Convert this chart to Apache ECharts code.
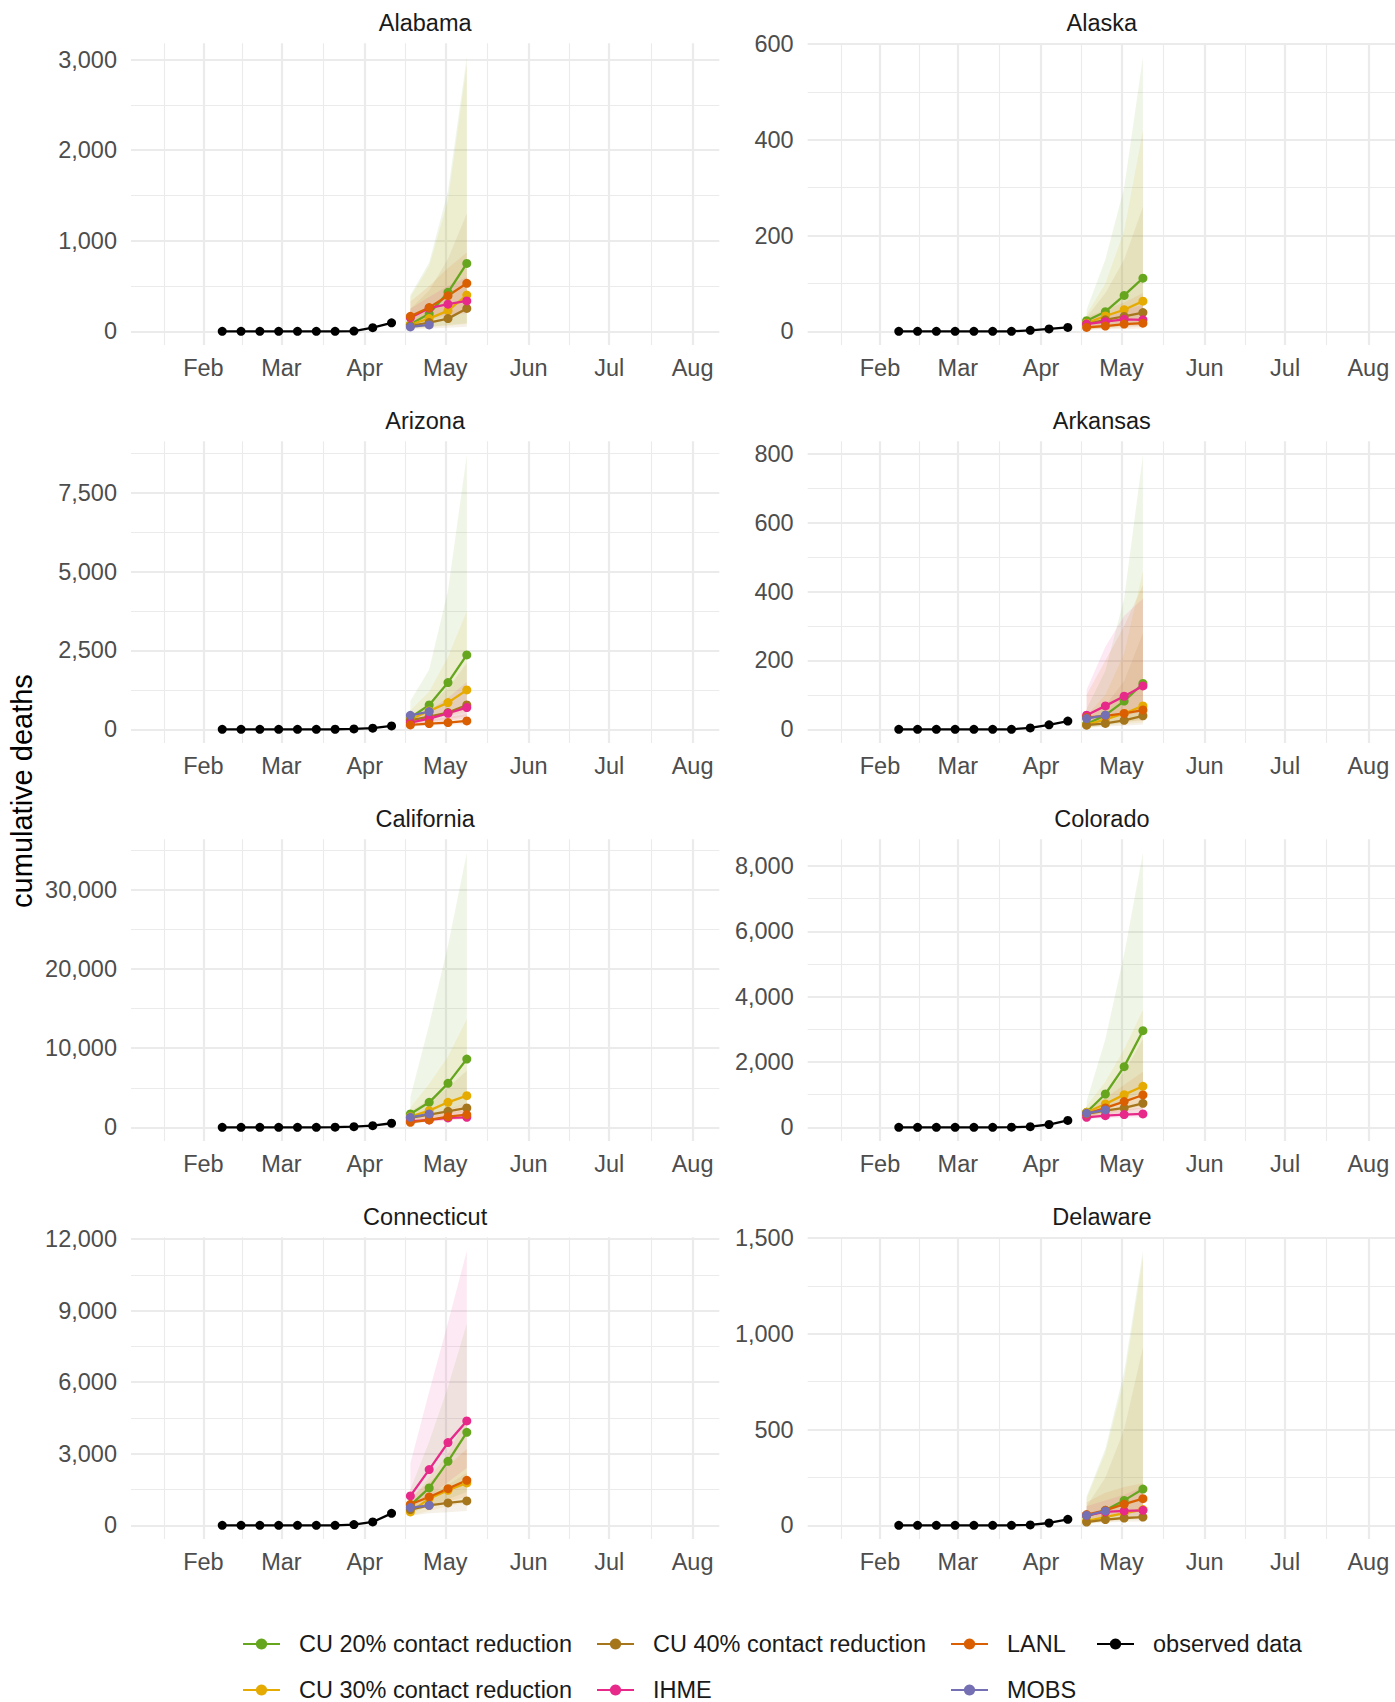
<!DOCTYPE html>
<html>
<head>
<meta charset="utf-8">
<script src="https://cdn.jsdelivr.net/npm/echarts@6/dist/echarts.min.js"></script>
<style>
html,body{margin:0;padding:0;background:#ffffff;}
#chart{width:1395px;height:1702px;}
</style>
</head>
<body>
<div id="chart"></div>
<script>
// ---------------- DATA ----------------
const states = ['Alabama','Alaska','Arizona','Arkansas','California','Colorado','Connecticut','Delaware'];
const models = ['CU 20% contact reduction','CU 30% contact reduction','CU 40% contact reduction','IHME','LANL','MOBS'];
const modelColors = ['#66A61E','#E6AB02','#A6761D','#E7298A','#D95F02','#7570B3'];
const obsDates = ['2020-02-08','2020-02-15','2020-02-22','2020-02-29','2020-03-07','2020-03-14','2020-03-21','2020-03-28','2020-04-04','2020-04-11'];
const fcDates = ['2020-04-18','2020-04-25','2020-05-02','2020-05-09'];
const xTickDates = ['2020-02-01','2020-03-01','2020-04-01','2020-05-01','2020-06-01','2020-07-01','2020-08-01'];
const xTickLabels = ['Feb','Mar','Apr','May','Jun','Jul','Aug'];
const xMinorDates = ['2020-01-17T12:00','2020-02-15T12:00','2020-03-16T12:00','2020-04-16T00:00','2020-05-16T12:00','2020-06-16T00:00','2020-07-16T12:00'];
const xDataRange = ['2020-01-15','2020-08-01'];

// y tick labels per state
const alabamaTicks = [0,1000,2000,3000];
const alaskaTicks = [0,200,400,600];
const arizonaTicks = [0,2500,5000,7500];
const arkansasTicks = [0,200,400,600,800];
const californiaTicks = [0,10000,20000,30000];
const coloradoTicks = [0,2000,4000,6000,8000];
const connecticutTicks = [0,3000,6000,9000,12000];
const delawareTicks = [0,500,1000,1500];

// observed weekly cumulative deaths
const alabamaObs = [0,0,0,0,0,0,0,2,40,93];
const alaskaObs = [0,0,0,0,0,0,0,2,5,8];
const arizonaObs = [0,0,0,0,0,0,1,12,35,108];
const arkansasObs = [0,0,0,0,0,0,0,4,13,24];
const californiaObs = [0,0,0,0,0,0,10,80,200,510];
const coloradoObs = [0,0,0,0,0,0,2,20,85,210];
const connecticutObs = [0,0,0,0,0,0,0,30,140,500];
const delawareObs = [0,0,0,0,0,0,0,2,12,31];

// forecasts: rows follow `models` order (CU20, CU30, CU40, IHME, LANL, MOBS)
const alabamaMean = [[77,195,430,750],[75,140,228,400],[60,96,140,252],[150,255,300,335],[165,262,393,530],[48,70,null,null]];
const alabamaLo   = [[30,50,70,90],[30,45,60,80],[20,30,40,50],[100,150,180,200],[80,120,170,220],null];
const alabamaHi   = [[400,760,1550,3030],[380,720,1450,2950],[250,450,800,1300],[250,380,500,600],[330,500,700,870],null];

const alaskaMean = [[22,41,75,111],[17,32,45,63],[15,24,31,39],[15,20,25,24],[8,11,15,17],null];
const alaskaLo   = [[5,8,12,15],[4,7,10,12],[3,6,8,10],[8,10,12,12],[3,4,5,6],null];
const alaskaHi   = [[45,150,300,573],[35,100,210,420],[30,80,150,260],[25,35,45,55],[30,45,60,80],null];

const arizonaMean = [[370,772,1481,2359],[317,582,846,1248],[286,402,529,772],[212,338,508,688],[138,180,212,264],[444,561,null,null]];
const arizonaLo   = [[200,350,550,800],[180,300,420,560],[160,250,330,420],[130,200,280,350],[90,120,140,160],null];
const arizonaHi   = [[900,1900,4400,8700],[600,1200,2300,3750],[450,800,1300,2100],[320,600,1000,1500],[220,300,380,480],null];

const arkansasMean = [[15,41,82,133],[13,29,46,68],[12,17,26,39],[41,68,96,126],[34,39,46,56],[31,41,null,null]];
const arkansasLo   = [[5,12,20,30],[5,10,15,20],[4,8,10,14],[20,30,40,50],[15,18,22,25],null];
const arkansasHi   = [[60,170,380,797],[40,100,220,460],[30,70,140,280],[115,240,330,380],[100,200,300,420],null];

const californiaMean = [[1685,3159,5559,8634],[1348,2106,3159,4001],[1179,1600,2022,2443],[758,927,1179,1263],[632,927,1348,1600],[1263,1685,null,null]];
const californiaLo   = [[900,1500,2200,3000],[800,1200,1600,2000],[700,1000,1300,1500],[600,750,900,1000],[450,650,900,1100],null];
const californiaHi   = [[3800,13000,23000,34700],[2500,5500,9000,13700],[2000,3500,5000,7200],[1000,1400,1800,2200],[1000,1600,2300,3000],null];

const coloradoMean = [[459,1020,1857,2959],[459,714,1000,1255],[408,510,592,735],[306,357,388,408],[408,592,786,990],[429,531,null,null]];
const coloradoLo   = [[300,500,800,1100],[280,420,550,650],[250,330,380,430],[250,280,300,300],[280,380,480,580],null];
const coloradoHi   = [[800,2700,5300,8400],[650,1400,2400,3600],[550,1000,1700,2700],[400,480,550,600],[550,900,1300,1700],null];

const connecticutMean = [[838,1565,2683,3899],[559,1118,1467,1775],[657,838,936,1020],[1230,2334,3466,4374],[880,1188,1537,1887],[741,838,null,null]];
const connecticutLo   = [[500,800,1100,1400],[400,600,800,950],[400,500,550,600],[700,1200,1800,2400],[600,800,1000,1200],null];
const connecticutHi   = [[1500,3500,5800,8450],[1000,2000,3000,4500],[900,1300,1700,2200],[2600,5600,8500,11500],[1200,1800,2500,3200],null];

const delawareMean = [[47,78,130,189],[23,43,64,82],[17,30,38,43],[52,70,75,78],[56,78,110,139],[52,75,null,null]];
const delawareLo   = [[20,30,40,50],[10,18,25,30],[8,14,18,20],[35,45,50,50],[35,45,60,70],null];
const delawareHi   = [[150,400,800,1432],[140,380,760,1400],[100,250,500,930],[100,130,160,200],[120,170,200,220],null];

// ---------------- BUILD ----------------
const panelObs = [alabamaObs,alaskaObs,arizonaObs,arkansasObs,californiaObs,coloradoObs,connecticutObs,delawareObs];
const panelMean = [alabamaMean,alaskaMean,arizonaMean,arkansasMean,californiaMean,coloradoMean,connecticutMean,delawareMean];
const panelLo = [alabamaLo,alaskaLo,arizonaLo,arkansasLo,californiaLo,coloradoLo,connecticutLo,delawareLo];
const panelHi = [alabamaHi,alaskaHi,arizonaHi,arkansasHi,californiaHi,coloradoHi,connecticutHi,delawareHi];
const panelTicks = [alabamaTicks,alaskaTicks,arizonaTicks,arkansasTicks,californiaTicks,coloradoTicks,connecticutTicks,delawareTicks];

const FONT = '"Liberation Sans", Arial, Helvetica, sans-serif';
const GRID_LEFT = [131, 807.7];
const GRID_TOP0 = 43.3;
const ROW_PITCH = 398;
const GRID_W = 588.3;
const GRID_H = 301.7;
const GRID_COLOR = '#EBEBEB';

const ts = s => new Date(s.length > 10 ? s : s + 'T00:00:00').getTime();
const xTickTs = xTickDates.map(ts);
const dStart = ts(xDataRange[0]), dEnd = ts(xDataRange[1]);
const xMin = dStart - 0.05 * (dEnd - dStart);
const xMax = dEnd + 0.05 * (dEnd - dStart);

const grids = [], xAxes = [], yAxes = [], series = [], graphics = [];

function ribbonRenderer(color) {
  return function (params, api) {
    if (params.dataIndex !== 0) return null;
    const n = params.dataInsideLength;
    const up = [], dn = [];
    for (let j = 0; j < n; j++) {
      const x = api.value(0, j);
      up.push(api.coord([x, api.value(2, j)]));
      dn.unshift(api.coord([x, api.value(1, j)]));
    }
    return {type: 'polygon', shape: {points: up.concat(dn)}, style: {fill: color, opacity: 0.1}, silent: true};
  };
}

states.forEach((st, i) => {
  const row = Math.floor(i / 2), col = i % 2;
  const top = GRID_TOP0 + row * ROW_PITCH;
  grids.push({left: GRID_LEFT[col], top: top, width: GRID_W, height: GRID_H});

  // y range like ggplot: data range expanded by 5%
  let yMaxData = 0;
  panelObs[i].forEach(v => { if (v != null) yMaxData = Math.max(yMaxData, v); });
  [panelMean[i], panelHi[i]].forEach(mat => mat.forEach(r => { if (r) r.forEach(v => { if (v != null) yMaxData = Math.max(yMaxData, v); }); }));
  const yMin = -0.05 * yMaxData, yMax = yMaxData * 1.05;
  const ticks = panelTicks[i];

  xAxes.push({
    type: 'value', gridIndex: i, min: xMin, max: xMax, scale: true,
    axisLine: {show: false}, axisTick: {show: false},
    splitLine: {show: false}, minorSplitLine: {show: false},
    axisLabel: {
      customValues: xTickTs,
      formatter: v => { let k = 0, best = Infinity; xTickTs.forEach((t, j) => { const d = Math.abs(t - v); if (d < best) { best = d; k = j; } }); return xTickLabels[k]; },
      fontFamily: FONT, fontSize: 23.5, color: '#4D4D4D', margin: 11, lineHeight: 24, hideOverlap: false
    }
  });
  yAxes.push({
    type: 'value', gridIndex: i, min: yMin, max: yMax,
    axisLine: {show: false}, axisTick: {show: false},
    splitLine: {show: false}, minorSplitLine: {show: false},
    axisLabel: {
      customValues: ticks,
      formatter: v => Math.round(v).toLocaleString('en-US'),
      fontFamily: FONT, fontSize: 23.5, color: '#4D4D4D', margin: 14, hideOverlap: false
    }
  });

  // gridlines (major + minor), drawn through the axes' scales
  const step = ticks[1] - ticks[0];
  const yMinor = [];
  for (let k = -1; k < ticks.length; k++) {
    const v = (k < 0 ? ticks[0] - step : ticks[k]) + step / 2;
    if (v > yMin && v < yMax) yMinor.push(v);
  }
  const gl = [];
  xMinorDates.map(ts).forEach(t => { if (t > xMin && t < xMax) gl.push({xAxis: t, lineStyle: {color: GRID_COLOR, width: 1.1, type: 'solid'}}); });
  yMinor.forEach(v => gl.push({yAxis: v, lineStyle: {color: GRID_COLOR, width: 1.1, type: 'solid'}}));
  xTickTs.forEach(t => gl.push({xAxis: t, lineStyle: {color: GRID_COLOR, width: 2.2, type: 'solid'}}));
  ticks.forEach(v => { if (v >= yMin && v <= yMax) gl.push({yAxis: v, lineStyle: {color: GRID_COLOR, width: 2.2, type: 'solid'}}); });
  series.push({
    type: 'line', name: 'grid' + i, xAxisIndex: i, yAxisIndex: i, data: [], silent: true, z: 0,
    markLine: {silent: true, z: 0, animation: false, symbol: ['none', 'none'], label: {show: false},
      emphasis: {disabled: true}, data: gl}
  });

  // ribbons (polygons between lower and upper bounds)
  models.forEach((m, k) => {
    const lo = panelLo[i][k], hi = panelHi[i][k];
    if (!lo || !hi) return;
    const data = [];
    fcDates.forEach((d, j) => {
      if (lo[j] == null || hi[j] == null) return;
      data.push([ts(d), lo[j], hi[j]]);
    });
    series.push({type: 'custom', name: 'ribbon', xAxisIndex: i, yAxisIndex: i, data: data,
      encode: {x: 0, y: [1, 2]}, silent: true, z: 2, clip: false,
      renderItem: ribbonRenderer(modelColors[k])});
  });

  // model lines
  models.forEach((m, k) => {
    const mean = panelMean[i][k];
    if (!mean) return;
    const data = [];
    fcDates.forEach((d, j) => { if (mean[j] != null) data.push([ts(d), mean[j]]); });
    series.push({type: 'line', name: m, xAxisIndex: i, yAxisIndex: i, data: data,
      symbol: 'circle', symbolSize: 9, showSymbol: true, z: 3,
      color: modelColors[k], lineStyle: {width: 2.3, color: modelColors[k]}, itemStyle: {color: modelColors[k]}});
  });

  // observed
  series.push({type: 'line', name: 'observed data', xAxisIndex: i, yAxisIndex: i,
    data: obsDates.map((d, j) => [ts(d), panelObs[i][j]]),
    symbol: 'circle', symbolSize: 9, showSymbol: true, z: 3,
    color: '#000000', lineStyle: {width: 2.3, color: '#000000'}, itemStyle: {color: '#000000'}});

  // panel title
  graphics.push({type: 'text', x: GRID_LEFT[col] + GRID_W / 2, y: 22.7 + row * ROW_PITCH,
    style: {text: st, align: 'center', verticalAlign: 'middle', font: '23.5px ' + FONT, fill: '#1A1A1A'}});
});

graphics.push({type: 'text', x: 21.6, y: 791, rotation: Math.PI / 2,
  style: {text: 'cumulative deaths', align: 'center', verticalAlign: 'middle', font: '29px ' + FONT, fill: '#000000'}});

// legend: column-major layout like ggplot (2 rows)
const legendItems = [models[0], models[1], models[2], models[3], models[4], models[5], 'observed data'];
const legendX = [242, 242, 596, 596, 950, 950, 1096];
const legendTop = [1630, 1676, 1630, 1676, 1630, 1676, 1630];
const legends = legendItems.map((name, c) => ({
  orient: 'horizontal', left: legendX[c], top: legendTop[c], padding: 0,
  itemWidth: 37, itemHeight: 14, itemGap: 0, selectedMode: false,
  data: [name],
  textStyle: {fontFamily: FONT, fontSize: 23.5, color: '#1A1A1A', lineHeight: 28, padding: [0, 0, 0, 14]}
}));

const chart = echarts.init(document.getElementById('chart'), null, {renderer: 'svg', width: 1395, height: 1702});
chart.setOption({
  backgroundColor: '#ffffff',
  animation: false,
  grid: grids,
  xAxis: xAxes,
  yAxis: yAxes,
  legend: legends,
  graphic: graphics,
  series: series
});
</script>
</body>
</html>
